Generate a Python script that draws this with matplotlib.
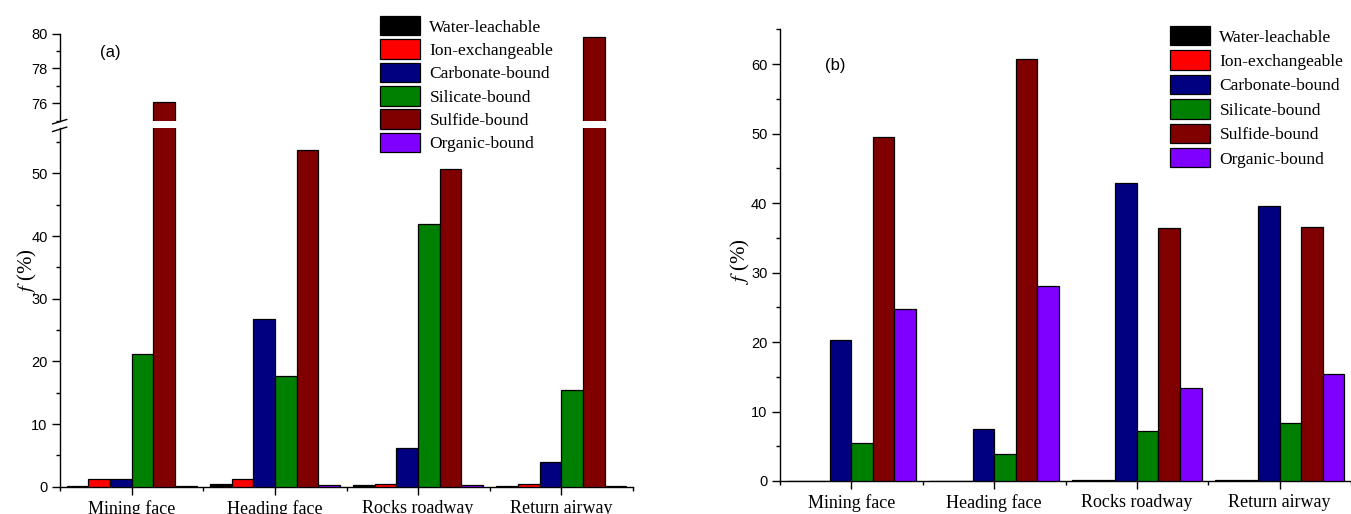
"""
Grouped bars of sulfur fraction shares f (%) at four sampling sites,
panel (a) with a broken y axis, panel (b) plain.
"""

import matplotlib

matplotlib.use("Agg")
import matplotlib.pyplot as plt
import numpy as np
from matplotlib.lines import Line2D
from matplotlib.patches import Patch
from matplotlib.ticker import MultipleLocator

plt.rcParams["font.family"] = ["Liberation Sans", "DejaVu Sans"]
plt.rcParams["mathtext.fontset"] = "stix"

SITES = ["Mining face", "Heading face", "Rocks roadway", "Return airway"]
FRACTIONS = [
    "Water-leachable",
    "Ion-exchangeable",
    "Carbonate-bound",
    "Silicate-bound",
    "Sulfide-bound",
    "Organic-bound",
]
COLORS = ["#000000", "#ff0000", "#000080", "#008000", "#800000", "#8000ff"]

# panel (a)
a_water = [0.05, 0.4, 0.2, 0.1]
a_ion = [1.2, 1.3, 0.5, 0.4]
a_carbonate = [1.2, 26.8, 6.1, 4.0]
a_silicate = [21.2, 17.7, 42.0, 15.4]
a_sulfide = [76.1, 53.7, 50.7, 79.8]
a_organic = [0.1, 0.2, 0.35, 0.1]

# panel (b)
b_water = [0.0, 0.0, 0.1, 0.1]
b_ion = [0.0, 0.0, 0.1, 0.1]
b_carbonate = [20.3, 7.5, 42.9, 39.6]
b_silicate = [5.5, 3.9, 7.2, 8.4]
b_sulfide = [49.5, 60.7, 36.4, 36.5]
b_organic = [24.7, 28.0, 13.4, 15.4]

W, H = 1351, 514
BAR_W = 0.151
SERIF = ["Liberation Serif", "DejaVu Serif"]


def px_box(x0, y_top, x1, y_bot):
    """Pixel box (from top-left) -> figure fraction rect."""
    return [x0 / W, 1 - y_bot / H, (x1 - x0) / W, (y_bot - y_top) / H]


def draw_bars(ax, series):
    x = np.arange(1, len(SITES) + 1)
    for i, (vals, col) in enumerate(zip(series, COLORS)):
        ax.bar(x + (i - 2.5) * BAR_W, vals, BAR_W, color=col,
               edgecolor="black", linewidth=0.9, zorder=3)


def style_axis(ax, bottom=True):
    for side in ("top", "right"):
        ax.spines[side].set_visible(False)
    for side in ("left", "bottom"):
        ax.spines[side].set_linewidth(1.0)
    ax.tick_params(which="major", direction="out", length=5.5, width=1.0,
                   labelsize=10.5)
    ax.tick_params(which="minor", direction="out", length=3, width=1.0)
    ax.set_xlim(0.5, 4.5)
    if bottom:
        ax.set_xticks(range(1, 5))
        ax.set_xticklabels(SITES, fontfamily=SERIF, fontsize=13)
        ax.tick_params(axis="x", which="major", pad=4.0)
        ax.xaxis.set_minor_locator(MultipleLocator(1, offset=0.5))
    else:
        ax.spines["bottom"].set_visible(False)
        ax.set_xticks([])
        ax.tick_params(axis="x", which="both", bottom=False, labelbottom=False)


def add_legend(fig, x_px, y_px, spacing):
    handles = [Patch(facecolor=c, edgecolor="black", linewidth=0.9) for c in COLORS]
    fig.legend(handles, FRACTIONS, loc="upper left",
               bbox_to_anchor=(x_px / W, 1 - y_px / H),
               bbox_transform=fig.transFigure, frameon=False,
               prop={"family": SERIF, "size": 12.5}, borderpad=0,
               borderaxespad=0, handlelength=2.3, handleheight=1.35,
               handletextpad=0.55, labelspacing=spacing)


fig = plt.figure(figsize=(W / 100, H / 100), dpi=100)

# ---- panel (a): broken axis ----
a_series = [a_water, a_ion, a_carbonate, a_silicate, a_sulfide, a_organic]
ax_lo = fig.add_axes(px_box(60, 128.3, 633, 486.7))
ax_hi = fig.add_axes(px_box(60, 33.7, 633, 121.0))
for ax in (ax_lo, ax_hi):
    draw_bars(ax, a_series)
style_axis(ax_lo)
style_axis(ax_hi, bottom=False)
ax_lo.set_ylim(0, 57.2)
ax_lo.yaxis.set_major_locator(MultipleLocator(10))
ax_lo.yaxis.set_minor_locator(MultipleLocator(5))
ax_hi.set_ylim(74.98, 80)
ax_hi.set_yticks([76, 78, 80])
ax_hi.yaxis.set_minor_locator(MultipleLocator(1))
ax_lo.set_ylabel("$f$ (%)", fontfamily=SERIF, fontsize=15)
ax_lo.yaxis.set_label_coords(-0.037, 0.6)

# break marks on the y spine
for yc in (121.7, 129.3):
    fig.add_artist(Line2D([52.7 / W, 66.7 / W],
                          [1 - (yc + 2.2) / H, 1 - (yc - 2.2) / H],
                          color="black", linewidth=1.0))

fig.text(110 / W, 1 - 52.7 / H, "(a)", ha="center", va="center", fontsize=12)
add_legend(fig, 380, 16, 0.22)

# ---- panel (b) ----
b_series = [b_water, b_ion, b_carbonate, b_silicate, b_sulfide, b_organic]
ax_b = fig.add_axes(px_box(780, 29.3, 1351, 481))
draw_bars(ax_b, b_series)
style_axis(ax_b)
ax_b.set_ylim(0, 65)
ax_b.yaxis.set_major_locator(MultipleLocator(10))
ax_b.yaxis.set_minor_locator(MultipleLocator(5))
ax_b.set_ylabel("$f$ (%)", fontfamily=SERIF, fontsize=15)
ax_b.yaxis.set_label_coords(-0.049, 0.485)

fig.text(835 / W, 1 - 65.5 / H, "(b)", ha="center", va="center", fontsize=12)
add_legend(fig, 1170, 26, 0.28)

fig.savefig("out.png", dpi=100)
